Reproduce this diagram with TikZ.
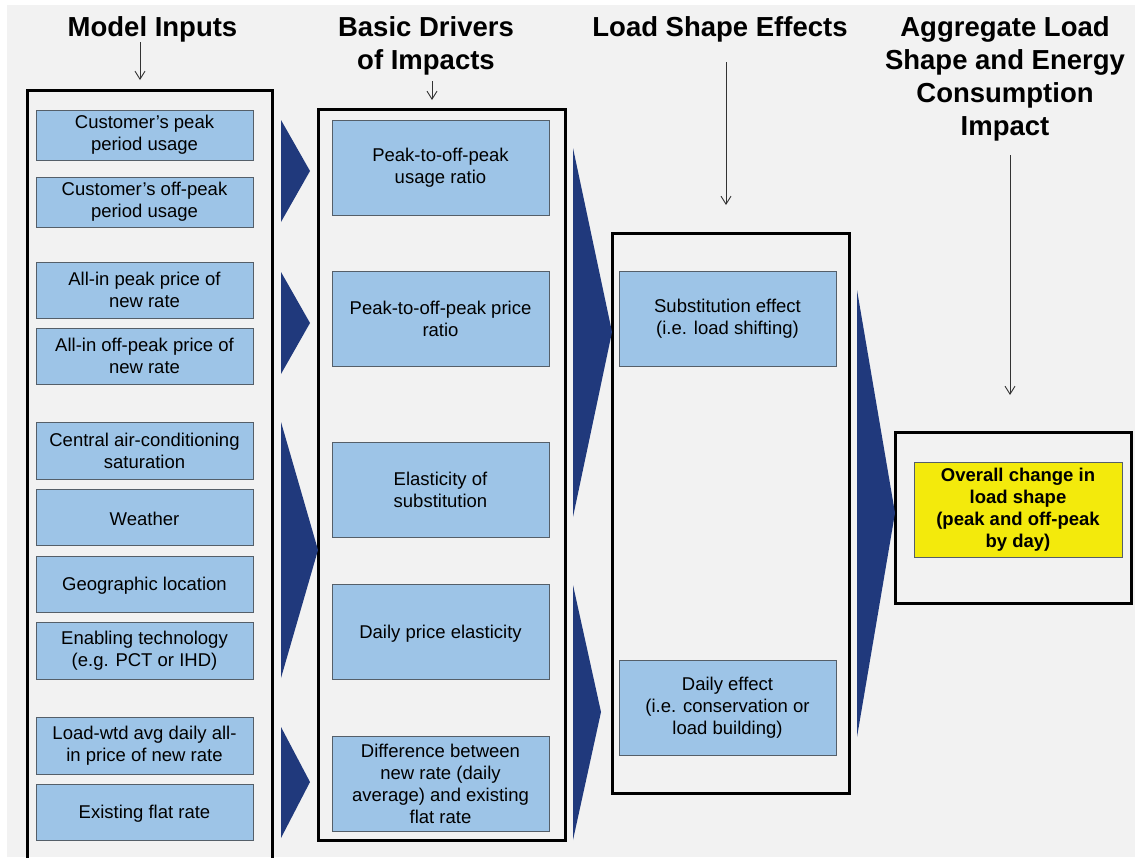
\documentclass[tikz,border=0pt]{standalone}
\usepackage{fontspec}
\setmainfont{Liberation Sans}
\usetikzlibrary{arrows.meta}
\definecolor{bg}{RGB}{242,242,242}
\definecolor{boxblue}{RGB}{157,196,231}
\definecolor{boxedge}{RGB}{85,95,105}
\definecolor{navy}{RGB}{32,57,124}
\definecolor{hiyellow}{RGB}{243,234,12}
\begin{document}
\begin{tikzpicture}[x=1pt,y=-1pt,
  inbox/.style={draw=boxedge, line width=1pt, fill=boxblue, align=center, inner sep=0pt,
    font=\fontsize{18.5}{22}\selectfont, execute at begin node={\rule{0pt}{17.5pt}}},
  colA/.style={inbox, minimum width=217pt},
  frame/.style={draw=black, line width=3pt, inner sep=0pt},
  title/.style={font=\bfseries\fontsize{27.5}{33}\selectfont, align=center, inner sep=0pt, anchor=north},
  chev/.style={fill=navy},
  down/.style={draw=black!80, line width=0.9pt, -{Straight Barb[length=8pt,width=10pt]}}
]
\clip (0,0) rectangle (1135,857);
\fill[white] (0,0) rectangle (1135,857);
\fill[bg] (7,5) rectangle (1135,857);

% titles
\node[title] (t1) at (152.5,16.3) {Model Inputs};
\node[title] (t2) at (426,16.3) {Basic Drivers\\of Impacts};
\node[title] (t3) at (720,16.3) {Load Shape Effects};
\node[title] (t4) at (1005,16.3) {Aggregate Load\\Shape and Energy\\Consumption\\Impact};

% frames
\node[frame, minimum width=245pt, minimum height=820pt] (f1) at (149.5,500) {};
\node[frame, minimum width=247pt, minimum height=731pt] (f2) at (442,474.5) {};
\node[frame, minimum width=237pt, minimum height=560pt] (f3) at (730.5,513) {};
\node[frame, minimum width=236pt, minimum height=171pt] (f4) at (1013.5,517.5) {};

% title arrows
\coordinate (d1s) at (140,42);  \coordinate (d1e) at (140,80);
\coordinate (d2s) at (432,81);  \coordinate (d2e) at (432,100);
\coordinate (d3s) at (726,62);  \coordinate (d3e) at (726,205);
\coordinate (d4s) at (1010,155); \coordinate (d4e) at (1010,395);
\draw[down] (d1s) -- (d1e);
\draw[down] (d2s) -- (d2e);
\draw[down] (d3s) -- (d3e);
\draw[down] (d4s) -- (d4e);

% column 1
\node[colA, minimum height=50pt] (m1) at (144.5,135) {Customer’s peak\\period usage};
\node[colA, minimum height=50pt] (m2) at (144.5,202) {Customer’s off-peak\\period usage};
\node[colA, minimum height=56pt] (m3) at (144.5,290) {All-in peak price of\\new rate};
\node[colA, minimum height=56pt] (m4) at (144.5,356) {All-in off-peak price of\\new rate};
\node[colA, minimum height=57pt] (m5) at (144.5,450.5) {Central air-conditioning\\saturation};
\node[colA, minimum height=56pt] (m6) at (144.5,517) {Weather};
\node[colA, minimum height=56pt] (m7) at (144.5,584) {Geographic location};
\node[colA, minimum height=57pt] (m8) at (144.5,650.5) {Enabling technology\\(e.g. PCT or IHD)};
\node[colA, minimum height=57pt] (m9) at (144.5,745.5) {Load-wtd avg daily all-\\in price of new rate};
\node[colA, minimum height=56pt] (m10) at (144.5,812) {Existing flat rate};

% column 2
\node[colA, minimum height=95pt] (b1) at (440.5,167.5) {Peak-to-off-peak\\usage ratio};
\node[colA, minimum height=95pt] (b2) at (440.5,318.5) {Peak-to-off-peak price\\ratio};
\node[colA, minimum height=95pt] (b3) at (440.5,489.5) {Elasticity of\\substitution};
\node[colA, minimum height=95pt] (b4) at (440.5,632) {Daily price elasticity};
\node[colA, minimum height=95pt] (b5) at (440.5,783.5) {Difference between\\new rate (daily\\average) and existing\\flat rate};

% column 3
\node[colA, minimum height=95pt] (l1) at (727.5,318.5) {Substitution effect\\(i.e. load shifting)};
\node[colA, minimum height=95pt] (l2) at (727.5,707.5) {Daily effect\\(i.e. conservation or\\load building)};

% column 4
\node[inbox, fill=hiyellow, minimum width=208pt, minimum height=95pt,
  font=\bfseries\fontsize{18.5}{22}\selectfont] (g1) at (1018,509.5)
  {Overall change in\\load shape\\(peak and off-peak\\by day)};

% chevrons
\fill[chev] (281,120) -- (310,171) -- (281,222) -- cycle;
\fill[chev] (281,272) -- (310,323) -- (281,374) -- cycle;
\fill[chev] (281,422) -- (318,550) -- (281,678) -- cycle;
\fill[chev] (281,727) -- (310,782) -- (281,838) -- cycle;
\fill[chev] (573,148) -- (612,332) -- (573,517) -- cycle;
\fill[chev] (573,585) -- (601,712) -- (573,840) -- cycle;
\fill[chev] (857,290) -- (895,513) -- (857,737) -- cycle;
\end{tikzpicture}
\end{document}
